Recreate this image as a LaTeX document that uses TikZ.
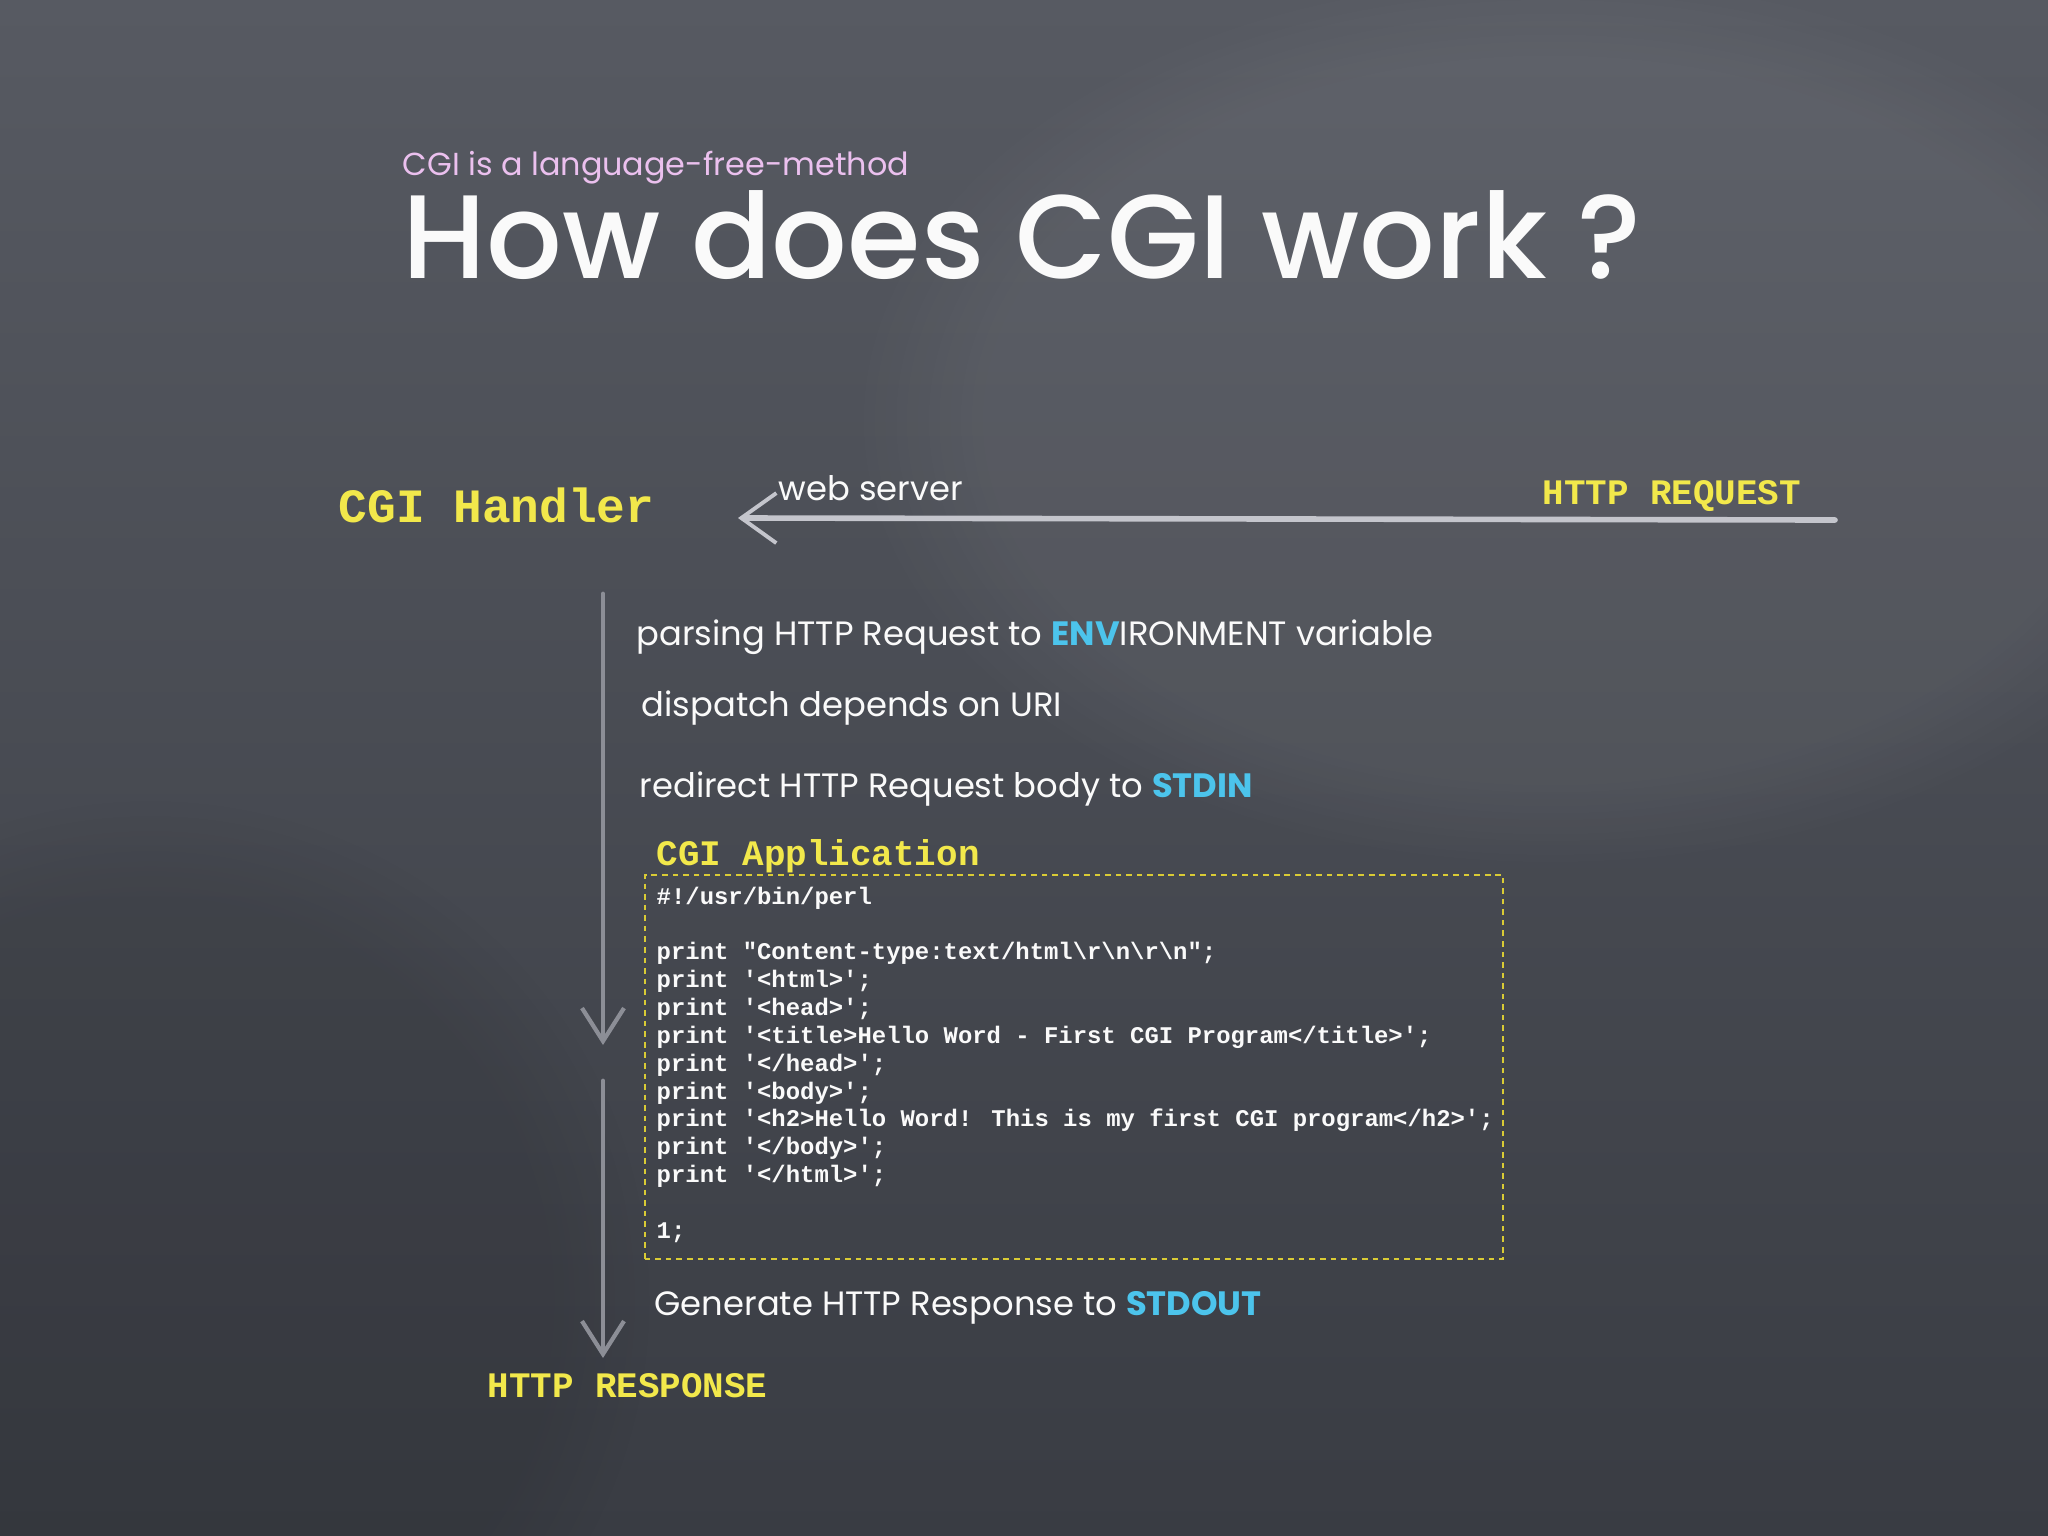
\documentclass[tikz,border=0pt]{standalone}
\usepackage{fontspec}
\setmainfont{Poppins}
\newfontfamily\titlefont{Poppins Medium}
\newfontfamily\codefont{Liberation Mono}
\usetikzlibrary{arrows.meta,fadings}
\definecolor{chalkyellow}{HTML}{F2E84B}
\definecolor{chalkblue}{HTML}{4CC4EC}
\definecolor{chalkpink}{HTML}{EBC0EE}
\definecolor{chalkwhite}{HTML}{FAFAFA}
\definecolor{arrowlight}{HTML}{C4C5CC}
\definecolor{arrowdark}{HTML}{8C8E96}
\definecolor{boardtop}{HTML}{575A62}
\definecolor{boardbot}{HTML}{393C43}
\definecolor{boxyellow}{HTML}{D9CB35}
\tikzset{
  txt/.style={anchor=base west, inner sep=0pt, text=chalkwhite},
  hand/.style={txt, font=\fontsize{9.6}{11.5}\selectfont},
  monolabel/.style={txt, text=chalkyellow, font=\codefont\bfseries\fontsize{10.2}{12}\selectfont},
  codeline/.style={txt, font=\codefont\bfseries\fontsize{6.8}{8}\selectfont},
  harrow/.style={draw=arrowlight, line width=1.6pt, line cap=round,
    -{Straight Barb[length=3.5mm,width=5mm,line width=1.1pt]}},
  varrow/.style={draw=arrowdark, line width=1.4pt, line cap=round,
    -{Straight Barb[length=3.3mm,width=4.2mm,line width=1.2pt]}},
  codebox/.style={draw=boxyellow, line width=0.6pt, dash pattern=on 1.6pt off 1.4pt,
    inner sep=0pt, minimum width=8.58cm, minimum height=3.84cm},
}
\begin{document}
\begin{tikzpicture}[x=0.01cm,y=-0.01cm]
\useasboundingbox (0,0) rectangle (2048,1536);
\begin{scope}
\clip (0,0) rectangle (2048,1536);
\shade[top color=boardtop, bottom color=boardbot] (0,0) rectangle (2048,1536);
\fill[white, opacity=0.05, path fading=circle with fuzzy edge 20 percent] (1550,420) ellipse [x radius=700, y radius=450];
\fill[black, opacity=0.08, path fading=circle with fuzzy edge 20 percent] (150,1300) ellipse [x radius=500, y radius=500];
\end{scope}

% titles
\node[txt, text=chalkpink, font=\fontsize{9.05}{11}\selectfont] (sub) at (402,175) {CGI is a language-free-method};
\node[txt, font=\titlefont\fontsize{33.8}{38}\selectfont] (title) at (402,278) {How does CGI work ?};

% top row
\node[monolabel, font=\codefont\bfseries\fontsize{13.6}{16}\selectfont] (handler) at (338,522) {CGI Handler};
\node[hand] (webserver) at (778,500) {web server};
\node[monolabel] (request) at (1542,504) {HTTP REQUEST};
\coordinate (reqstart) at (1835,520);
\coordinate (reqend) at (738,518);
\draw[harrow] (reqstart) -- (reqend);

% steps
\node[hand] (parse) at (636,645) {parsing HTTP Request to \textcolor{chalkblue}{\bfseries ENV}IRONMENT variable};
\node[hand] (dispatch) at (641,716) {dispatch depends on URI};
\node[hand] (redirect) at (639,797) {redirect HTTP Request body to \textcolor{chalkblue}{\bfseries STDIN}};

% application
\node[monolabel] (app) at (656,865) {CGI Application};
\node[codebox] (box) at (1074,1067) {};
\node[codeline] (c1) at (656,904) {\#!/usr/bin/perl};
\node[codeline] (c3) at (656,959.7) {print "Content-type:text/html\textbackslash r\textbackslash n\textbackslash r\textbackslash n";};
\node[codeline] (c4) at (656,987.6) {print '<html>';};
\node[codeline] (c5) at (656,1015.4) {print '<head>';};
\node[codeline] (c6) at (656,1043.3) {print '<title>Hello Word - First CGI Program</title>';};
\node[codeline] (c7) at (656,1071.2) {print '</head>';};
\node[codeline] (c8) at (656,1099.0) {print '<body>';};
\node[codeline] (c9) at (656,1126.9) {print '<h2>Hello Word! This is my first CGI program</h2>';};
\node[codeline] (c10) at (656,1154.7) {print '</body>';};
\node[codeline] (c11) at (656,1182.6) {print '</html>';};
\node[codeline] (c13) at (656,1238.3) {1;};

\node[hand] (generate) at (654,1315) {Generate HTTP Response to \textcolor{chalkblue}{\bfseries STDOUT}};
\node[monolabel] (response) at (487,1397) {HTTP RESPONSE};

% vertical arrows
\coordinate (v1s) at (603,594);
\coordinate (v1e) at (603,1045);
\coordinate (v2s) at (603,1081);
\coordinate (v2e) at (603,1358);
\draw[varrow] (v1s) -- (v1e);
\draw[varrow] (v2s) -- (v2e);
\end{tikzpicture}
\end{document}
